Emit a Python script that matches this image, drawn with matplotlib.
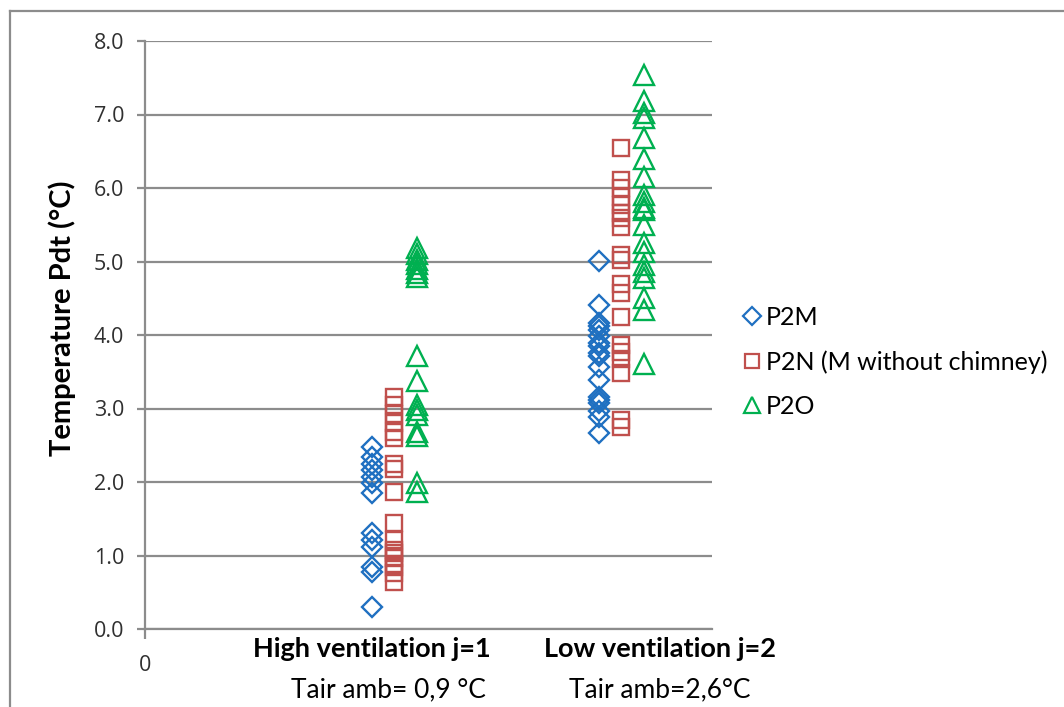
import matplotlib
matplotlib.use("Agg")
import matplotlib.pyplot as plt
from matplotlib.lines import Line2D
import numpy as np

# ---- data ----
groups = [1, 2]
group_labels = ["High ventilation j=1", "Low ventilation j=2"]
group_sublabels = ["Tair amb= 0,9 \u00b0C", "Tair amb=2,6\u00b0C"]
series_names = ["P2M", "P2N (M without chimney)", "P2O"]
series_offsets = [0.0, 0.1, 0.2]

p2m_j1 = [2.48, 2.34, 2.25, 2.16, 2.07, 1.98, 1.85, 1.30, 1.21, 1.12, 0.85, 0.78, 0.30]
p2m_j2 = [5.01, 4.41, 4.16, 4.12, 4.07, 3.98, 3.89, 3.85, 3.75, 3.72, 3.57, 3.39,
          3.16, 3.12, 3.07, 2.96, 2.89, 2.66]
p2n_j1 = [3.15, 3.05, 2.92, 2.80, 2.68, 2.60, 2.25, 2.18, 1.86, 1.44, 1.21, 1.07,
          1.03, 0.96, 0.89, 0.85, 0.76, 0.64]
p2n_j2 = [6.55, 6.11, 6.00, 5.88, 5.77, 5.66, 5.59, 5.47, 5.09, 5.02, 4.70, 4.57,
          4.25, 3.86, 3.77, 3.68, 3.48, 2.84, 2.75]
p2o_j1 = [5.18, 5.10, 5.02, 4.96, 4.90, 4.85, 4.79, 3.71, 3.38, 3.05, 2.98, 2.91,
          2.68, 2.62, 1.98, 1.87]
p2o_j2 = [7.54, 7.19, 7.02, 6.95, 6.68, 6.40, 6.15, 5.90, 5.81, 5.73, 5.70, 5.50,
          5.25, 5.13, 4.95, 4.86, 4.78, 4.50, 4.34, 3.61]

series_data = [[p2m_j1, p2m_j2], [p2n_j1, p2n_j2], [p2o_j1, p2o_j2]]
colors = ["#1F70C1", "#C0504D", "#00B050"]
markers = ["D", "s", "^"]
msizes = [10.5, 12, 14]

yticks = [0.0, 1.0, 2.0, 3.0, 4.0, 5.0, 6.0, 7.0, 8.0]

fig = plt.figure(figsize=(10.64, 7.07), dpi=100)
ax = fig.add_axes([145/1064, 1-629/707, (712-145)/1064, (629-41)/707])

for name, data, off, c, m, ms in zip(series_names, series_data, series_offsets, colors, markers, msizes):
    for g, vals in zip(groups, data):
        ax.plot([g + off]*len(vals), vals, linestyle="none", marker=m, markersize=ms,
                markerfacecolor="none", markeredgecolor=c, markeredgewidth=1.7,
                clip_on=False, zorder=3)

ax.set_xlim(0, 2.5)
ax.set_ylim(0, 8)
ax.set_yticks(yticks)
ax.set_yticklabels([f"{v:.1f}" for v in yticks], fontsize=15.5, family="Open Sans", color="#303030")
ax.set_xticks([0])
ax.set_xticklabels(["0"], fontsize=15.5, family="Open Sans", color="#303030")
ax.grid(axis="y", color="#8C8C8C", linewidth=1.6, zorder=0)
for s in ["top", "right"]:
    ax.spines[s].set_visible(False)
for s in ["left", "bottom"]:
    ax.spines[s].set_color("#8C8C8C")
    ax.spines[s].set_linewidth(1.6)
ax.tick_params(axis="both", colors="#8C8C8C", width=1.6, length=6, labelcolor="#303030", pad=9)
ax.tick_params(axis="x", length=7, pad=12)

fig.text(62/1064, 1-318/707, "Temperature Pdt (\u00b0C)", rotation=90, ha="center", va="center",
         fontsize=21, family="Lato", fontweight="bold")

# category labels
xt = ax.get_xaxis_transform()
ax.text(1.0, -0.013, group_labels[0], transform=xt, ha="center", va="top",
        fontsize=19.5, family="Lato", fontweight="bold")
ax.text(1.075, -0.082, group_sublabels[0], transform=xt, ha="center", va="top",
        fontsize=19, family="Lato")
ax.text(2.27, -0.013, group_labels[1], transform=xt, ha="center", va="top",
        fontsize=19.5, family="Lato", fontweight="bold")
ax.text(2.27, -0.082, group_sublabels[1], transform=xt, ha="center", va="top",
        fontsize=19, family="Lato")

# legend
handles = [Line2D([], [], linestyle="none", marker=m, markersize=ms*0.85, markerfacecolor="none",
                  markeredgecolor=c, markeredgewidth=1.6) for c, m, ms in zip(colors, markers, msizes)]
leg = fig.legend(handles, series_names, loc="center left", bbox_to_anchor=(745/1064, 1-362/707),
                 frameon=False, prop={"family": "Lato", "size": 18}, handlelength=0.55,
                 handletextpad=0.3, labelspacing=0.85, borderaxespad=0, borderpad=0)

# figure frame (left and top)
fig.add_artist(Line2D([10/1064, 10/1064], [0, 1-11/707], transform=fig.transFigure, color="#8C8C8C", linewidth=1.6))
fig.add_artist(Line2D([10/1064, 1], [1-11/707, 1-11/707], transform=fig.transFigure, color="#8C8C8C", linewidth=1.6))

fig.savefig("out.png", dpi=100)
